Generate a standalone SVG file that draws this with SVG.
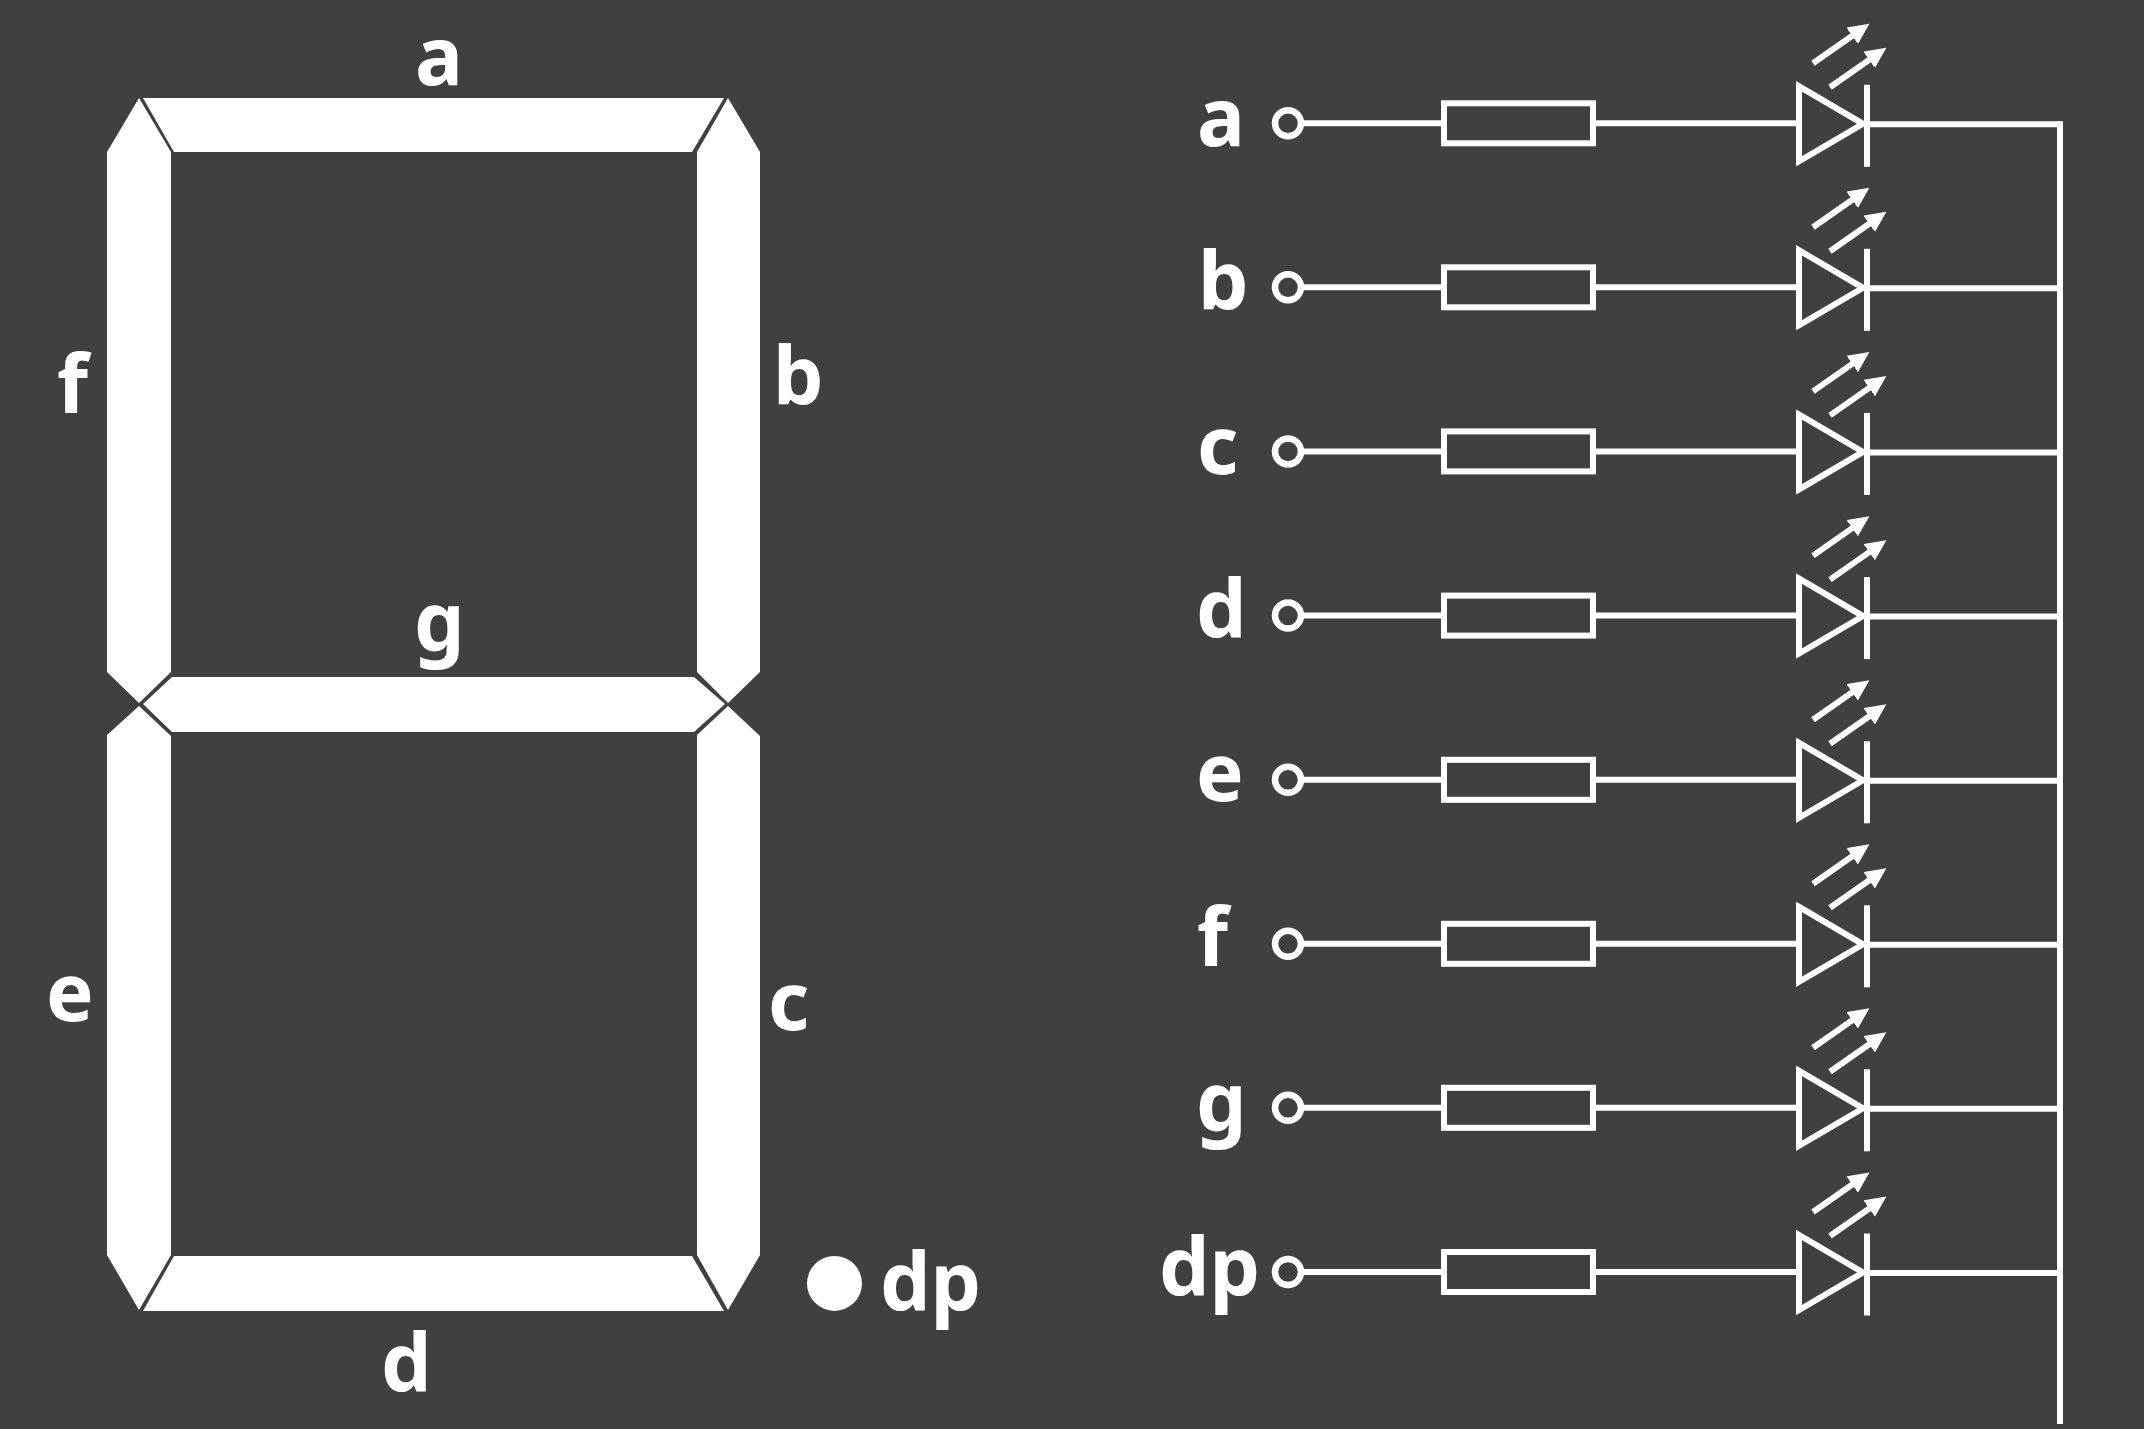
<svg xmlns="http://www.w3.org/2000/svg" width="2144" height="1429" viewBox="0 0 2144 1429">
<style>
.seg{fill:#fff}
.t{fill:#fff;font-family:"Noto Sans","Open Sans",sans-serif;font-weight:700;font-size:80px}
.w{stroke:#fff;stroke-width:6;fill:none}
.sym{stroke:#fff;stroke-width:6;fill:none}
.term{stroke:#fff;stroke-width:6.5;fill:none}
.ray{stroke:#fff;stroke-width:6;fill:none;marker-end:url(#head)}
</style>
<defs>
<marker id="head" markerUnits="userSpaceOnUse" markerWidth="22" markerHeight="22" refX="1" refY="10" orient="auto"><path d="M0 0L21 10L0 20Z" fill="#fff"/></marker>
<g id="led">
<circle class="term" cx="1288" cy="0" r="13"/>
<rect class="sym" x="1444" y="-20" width="149" height="40"/>
<polygon class="sym" points="1799,-37 1799,38 1863,0.5"/>
<line class="sym" x1="1867" y1="-38.5" x2="1867" y2="43.5"/>
<line class="ray" x1="1813" y1="-60" x2="1853" y2="-88"/>
<line class="ray" x1="1830" y1="-36" x2="1870" y2="-64"/>
</g>
<g id="wire">
<path class="w" d="M1301 0H1444M1593 0H1799M1867 1H2060"/>
</g>
</defs>
<rect width="2144" height="1429" fill="#404040"/>
<g id="segment-a"><polygon class="seg" points="143,98 724,98 692,152 174,152"/><text class="t" x="415" y="85">a</text></g>
<g id="segment-b"><polygon class="seg" points="728,98 760,152 760,672 728,703 697,672 697,152"/><text class="t" x="773" y="405">b</text></g>
<g id="segment-c"><polygon class="seg" points="728,706 760,736 760,1255 728,1310 697,1255 697,735"/><text class="t" x="768" y="1030">c</text></g>
<g id="segment-d"><polygon class="seg" points="174,1256 692,1256 724,1311 143,1311"/><text class="t" x="381" y="1392">d</text></g>
<g id="segment-e"><polygon class="seg" points="139,706 171,736 171,1255 139,1310 107,1255 107,735"/><text class="t" x="46" y="1021">e</text></g>
<g id="segment-f"><polygon class="seg" points="139,98 171,152 171,672 139,703 107,672 107,152"/><text class="t" x="57" y="413">f</text></g>
<g id="segment-g"><polygon class="seg" points="143,704 172,677 694,677 725,704 694,732 172,732"/><text class="t" x="414" y="651">g</text></g>
<g id="segment-dp"><circle class="seg" cx="834.5" cy="1283.4" r="27.5"/><text class="t" x="880" y="1311">dp</text></g>
<g id="connectors">
<path class="w" d="M2060 1424V121.3"/>
<use href="#wire" y="123.3"/>
<use href="#wire" y="287.3"/>
<use href="#wire" y="451.4"/>
<use href="#wire" y="615.6"/>
<use href="#wire" y="779.8"/>
<use href="#wire" y="943.8"/>
<use href="#wire" y="1107.8"/>
<use href="#wire" y="1272"/>
</g>
<g id="led-a"><use href="#led" y="123.3"/><text class="t" x="1197" y="146">a</text></g>
<g id="led-b"><use href="#led" y="287.3"/><text class="t" x="1198" y="310">b</text></g>
<g id="led-c"><use href="#led" y="451.4"/><text class="t" x="1197" y="474">c</text></g>
<g id="led-d"><use href="#led" y="615.6"/><text class="t" x="1196" y="638">d</text></g>
<g id="led-e"><use href="#led" y="779.8"/><text class="t" x="1196" y="801">e</text></g>
<g id="led-f"><use href="#led" y="943.8"/><text class="t" x="1197" y="966">f</text></g>
<g id="led-g"><use href="#led" y="1107.8"/><text class="t" x="1196" y="1131">g</text></g>
<g id="led-dp"><use href="#led" y="1272"/><text class="t" x="1159" y="1296">dp</text></g>
</svg>
